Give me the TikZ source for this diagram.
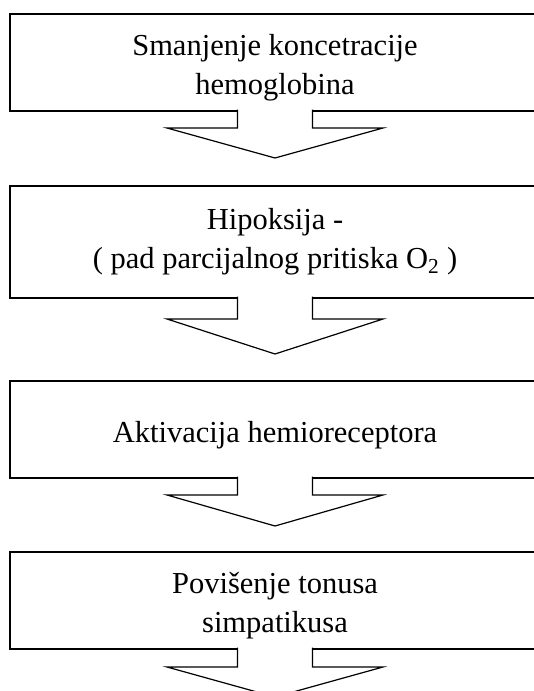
\documentclass[tikz,border=0pt]{standalone}
\usepackage{fontspec}
\setmainfont{Liberation Serif}
\tikzset{stepbox/.style={draw, line width=1.6pt, fill=white, inner sep=0pt, outer sep=0pt, minimum width=530pt},
         lbl/.style={anchor=base, inner sep=0pt, font=\fontsize{30.5}{36}\selectfont},
         blockarrow/.style={draw, fill=white, line width=1.2pt, line join=miter}}

\begin{document}
\begin{tikzpicture}[x=1pt, y=-1pt]
    \useasboundingbox (0,0) rectangle (534,691);
    \clip (0,0) rectangle (534,691);

    \node (b1) [stepbox, minimum height=97pt] at (275, 62.5) {};
    \node (b2) [stepbox, minimum height=112pt] at (275, 242) {};
    \node (b3) [stepbox, minimum height=97pt] at (275, 429.5) {};
    \node (b4) [stepbox, minimum height=97pt] at (275, 600.5) {};

    \node (t1a) [lbl] at (275, 55) {Smanjenje koncetracije};
    \node (t1b) [lbl] at (275, 94) {hemoglobina};
    \node (t2a) [lbl] at (275, 229) {Hipoksija -};
    \node (t2b) [lbl] at (275, 268) {( pad parcijalnog pritiska O\textsubscript{2} )};
    \node (t3) [lbl] at (275, 442) {Aktivacija hemioreceptora};
    \node (t4a) [lbl] at (275, 593) {Povišenje tonusa};
    \node (t4b) [lbl] at (275, 632) {simpatikusa};

    % arrows below each box
    \draw[blockarrow] ([xshift=-37.5pt, yshift=1.5pt]b1.south) -- ++(0,18.5) -- ++(-70.5,0)
        -- ++(108,30) -- ++(108,-30) -- ++(-70.5,0) -- ++(0,-18.5);
    \draw[blockarrow] ([xshift=-37.5pt, yshift=1.5pt]b2.south) -- ++(0,22.5) -- ++(-70.5,0)
        -- ++(108,35) -- ++(108,-35) -- ++(-70.5,0) -- ++(0,-22.5);
    \draw[blockarrow] ([xshift=-37.5pt, yshift=1.5pt]b3.south) -- ++(0,18.5) -- ++(-70.5,0)
        -- ++(108,31) -- ++(108,-31) -- ++(-70.5,0) -- ++(0,-18.5);
    \draw[blockarrow] ([xshift=-37.5pt, yshift=1.5pt]b4.south) -- ++(0,19.5) -- ++(-70.5,0)
        -- ++(108,30) -- ++(108,-30) -- ++(-70.5,0) -- ++(0,-19.5);
\end{tikzpicture}
\end{document}
